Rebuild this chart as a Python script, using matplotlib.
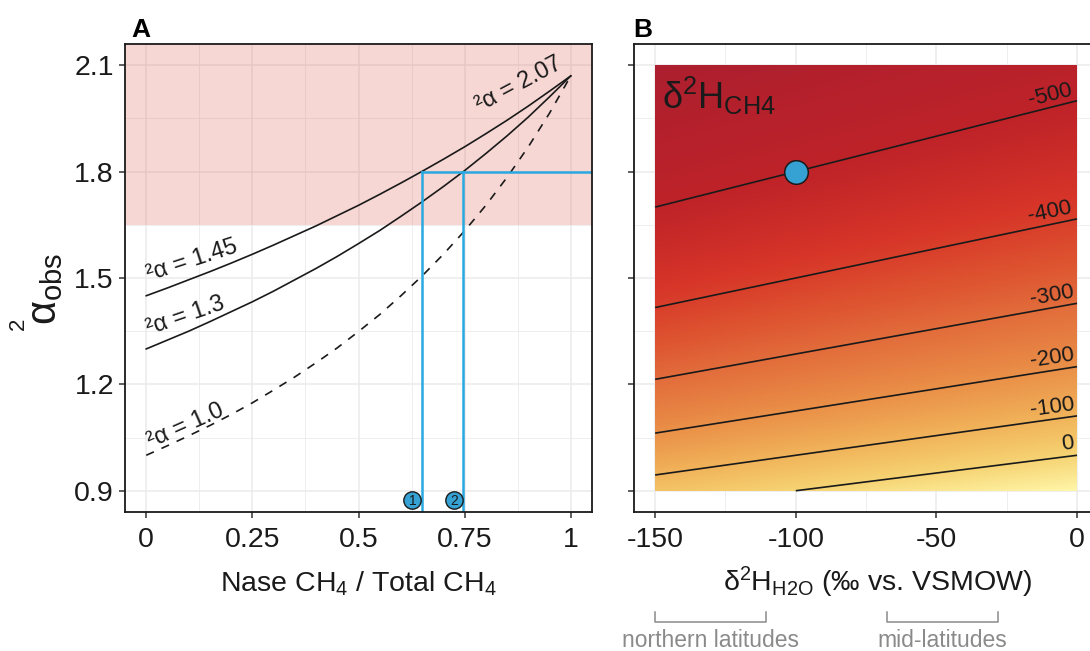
import numpy as np
import matplotlib
matplotlib.use("Agg")
import matplotlib.pyplot as plt
from matplotlib.colors import LinearSegmentedColormap, Normalize
from matplotlib.ticker import MultipleLocator, NullFormatter

plt.rcParams['font.family'] = ['Liberation Sans', 'DejaVu Sans']
plt.rcParams['mathtext.fontset'] = 'custom'
plt.rcParams['mathtext.rm'] = 'Liberation Sans'
plt.rcParams['mathtext.it'] = 'Liberation Sans:italic'
plt.rcParams['mathtext.bf'] = 'Liberation Sans:bold'
plt.rcParams['axes.unicode_minus'] = False

# ---------------- Panel A data ----------------
nase_fraction = [0.00, 0.05, 0.10, 0.15, 0.20, 0.25, 0.30, 0.35, 0.40, 0.45, 0.50,
                 0.55, 0.60, 0.65, 0.70, 0.75, 0.80, 0.85, 0.90, 0.95, 1.00]
alpha_145 = [1.450, 1.472, 1.495, 1.518, 1.542, 1.567, 1.593, 1.620, 1.647, 1.676, 1.705,
             1.736, 1.768, 1.801, 1.835, 1.870, 1.907, 1.945, 1.985, 2.027, 2.070]
alpha_130 = [1.300, 1.325, 1.350, 1.377, 1.405, 1.433, 1.463, 1.495, 1.527, 1.561, 1.597,
             1.634, 1.674, 1.715, 1.758, 1.803, 1.851, 1.901, 1.954, 2.011, 2.070]
alpha_100 = [1.000, 1.027, 1.055, 1.084, 1.115, 1.148, 1.184, 1.221, 1.261, 1.303, 1.349,
             1.397, 1.450, 1.506, 1.567, 1.633, 1.705, 1.784, 1.870, 1.965, 2.070]
curve_labels = ['²α = 1.45', '²α = 1.3', '²α = 1.0', '²α = 2.07']
curve_label_x = [0.109, 0.092, 0.092, 0.877]
curve_label_y = [1.548, 1.393, 1.084, 2.045]
curve_label_rot = [18, 19, 24, 28]
alpha_obs_sample = 1.8
sample_fractions = [0.649, 0.747]
sample_marker_x = [0.627, 0.725]
sample_marker_y = 0.873
sample_ids = ['1', '2']
pink_lower = 1.65

# ---------------- Panel B data ----------------
d2h_h2o_axis = np.linspace(-150, 0, 301)
alpha_axis = np.linspace(0.9, 2.1, 301)
contour_levels = [-500, -400, -300, -200, -100, 0]
contour_label_x = [-9.6, -9.6, -8.9, -8.9, -8.9, -3.2]
point_b = (-100, 1.8)
region_names = ['northern latitudes', 'mid-latitudes']
region_ranges = [(-150, -110.5), (-67.5, -28)]

# colours
blue_line = '#29A9E0'
blue_pt = '#35A2D3'
grid_c = '#EBEBEB'
cmap = LinearSegmentedColormap.from_list('d2h', [
    (0.00, '#AC1F2F'),
    (0.14, '#BF2329'),
    (0.25, '#D73528'),
    (0.35, '#DE5631'),
    (0.42, '#E26C3B'),
    (0.56, '#EA9048'),
    (0.70, '#F1B35A'),
    (0.84, '#F6D372'),
    (1.00, '#FFF6A9')])
norm = Normalize(vmin=-600, vmax=111)

fig = plt.figure(figsize=(10.9, 6.51), dpi=100)
axA = fig.add_axes([0.1147, 0.2135, 0.4284, 0.7189])
axB = fig.add_axes([0.5817, 0.2135, 0.4257, 0.7189])

def style(ax):
    ax.set_facecolor('white')
    ax.grid(True, which='major', color=grid_c, lw=1.1, zorder=0)
    ax.grid(True, which='minor', color=grid_c, lw=0.6, zorder=0)
    ax.set_axisbelow(True)
    for s in ax.spines.values():
        s.set_color('#1a1a1a')
        s.set_linewidth(1.3)
        s.set_zorder(10)
    ax.tick_params(which='major', direction='out', length=4, width=1.1,
                   color='#333333', labelsize=20.5, labelcolor='#1a1a1a')
    ax.tick_params(which='minor', length=0)
    ax.tick_params(axis='x', pad=7)
    ax.tick_params(axis='y', pad=4)

# ---------------- Panel A ----------------
style(axA)
axA.set_xlim(-0.05, 1.05)
axA.set_ylim(0.84, 2.16)
axA.xaxis.set_major_locator(MultipleLocator(0.25))
axA.xaxis.set_minor_locator(MultipleLocator(0.125))
axA.yaxis.set_major_locator(MultipleLocator(0.3))
axA.yaxis.set_minor_locator(MultipleLocator(0.15))
axA.set_xticks([0, 0.25, 0.5, 0.75, 1.0])
axA.set_xticklabels(['0', '0.25', '0.5', '0.75', '1'])
axA.set_yticks([0.9, 1.2, 1.5, 1.8, 2.1])
axA.set_yticklabels(['0.9', '1.2', '1.5', '1.8', '2.1'])

axA.axhspan(pink_lower, 2.3, color='#DB3B2B', alpha=0.2, lw=0, zorder=1)

axA.plot(nase_fraction, alpha_145, color='#1a1a1a', lw=1.2, zorder=3)
axA.plot(nase_fraction, alpha_130, color='#1a1a1a', lw=1.2, zorder=3)
axA.plot(nase_fraction, alpha_100, color='#1a1a1a', lw=1.2, ls=(0, (5, 5)), zorder=3)

for t, x, y, r in zip(curve_labels, curve_label_x, curve_label_y, curve_label_rot):
    axA.text(x, y, t, fontsize=17, rotation=r, rotation_mode='anchor',
             ha='center', va='center', color='#1a1a1a', zorder=4)

axA.plot([sample_fractions[0], 1.2], [alpha_obs_sample, alpha_obs_sample],
         color=blue_line, lw=1.8, zorder=5, clip_on=True)
for f in sample_fractions:
    axA.plot([f, f], [alpha_obs_sample, 0.8], color=blue_line, lw=1.8, zorder=5)
for x, s in zip(sample_marker_x, sample_ids):
    axA.plot(x, sample_marker_y, 'o', ms=12.5, mfc=blue_pt, mec='#1a1a1a', mew=1.0, zorder=6)
    axA.text(x, sample_marker_y - 0.001, s, fontsize=10, ha='center', va='center',
             color='#1a1a1a', zorder=7)

axA.set_xlabel(r'Nase CH$_4$ / Total CH$_4$', fontsize=20.5, labelpad=12, color='#1a1a1a')
# y label: small superscript 2, large alpha with "obs" subscript
fig.text(0.041, 0.556, r'$\mathrm{\alpha}_{\mathrm{obs}}$', rotation=90, fontsize=30,
         ha='center', va='center', color='#1a1a1a')
fig.text(0.0165, 0.502, '2', rotation=90, fontsize=16,
         ha='center', va='center', color='#1a1a1a')

# ---------------- Panel B ----------------
style(axB)
axB.set_xlim(-157.5, 7.5)
axB.set_ylim(0.84, 2.16)
axB.set_xticks([-150, -100, -50, 0])
axB.xaxis.set_minor_locator(MultipleLocator(25))
axB.set_yticks([0.9, 1.2, 1.5, 1.8, 2.1])
axB.yaxis.set_minor_locator(MultipleLocator(0.15))
axB.yaxis.set_major_formatter(NullFormatter())

X, A = np.meshgrid(d2h_h2o_axis, alpha_axis)
Z = (X + 1000.0) / A - 1000.0
axB.imshow(Z, origin='lower', extent=(-150, 0, 0.9, 2.1), aspect='auto',
           cmap=cmap, norm=norm, interpolation='bilinear', zorder=1)
axB.contour(X, A, Z, levels=contour_levels, colors='#1a1a1a', linewidths=1.2,
            linestyles='solid', zorder=2)

for lev, lx in zip(contour_levels, contour_label_x):
    ly = (lx + 1000.0) / (lev + 1000.0)
    slope_deg = np.degrees(np.arctan2(1.0, lev + 1000.0))
    axB.text(lx, ly + 0.035, f'{lev}', fontsize=16, rotation=slope_deg,
             transform_rotates_text=True, rotation_mode='anchor',
             ha='center', va='center', color='#1a1a1a', zorder=3)

axB.plot(point_b[0], point_b[1], 'o', ms=17, mfc=blue_pt, mec='#1a1a1a', mew=1.1, zorder=4)
axB.text(-147.5, 1.976, r'$\mathregular{δ^{2}H_{CH4}}$', fontsize=26, ha='left',
         va='baseline', color='#1a1a1a', zorder=4)

axB.set_xlabel(r'$\mathregular{δ^{2}H_{H2O}}$ (‰ vs. VSMOW)', fontsize=20.5, labelpad=10,
               color='#1a1a1a')
axB.xaxis.set_label_coords(0.524, -0.112, transform=axB.transAxes)
axB.xaxis.label.set_va('top')

# region brackets
grey = '#8a8a8a'
trans = axB.get_xaxis_transform()
for name, (x0, x1) in zip(region_names, region_ranges):
    yb = -0.235
    yt = -0.214
    axB.plot([x0, x0, x1, x1], [yt, yb, yb, yt], color=grey, lw=1.1,
             transform=trans, clip_on=False)
    axB.text((x0 + x1) / 2, -0.274, name, fontsize=16.5, color=grey, ha='center',
             va='center', transform=trans, clip_on=False)

fig.text(0.1202, 0.9432, 'A', fontsize=19, fontweight='bold', ha='left', va='baseline')
fig.text(0.5807, 0.9432, 'B', fontsize=19, fontweight='bold', ha='left', va='baseline')

fig.savefig('out.png', dpi=100)
